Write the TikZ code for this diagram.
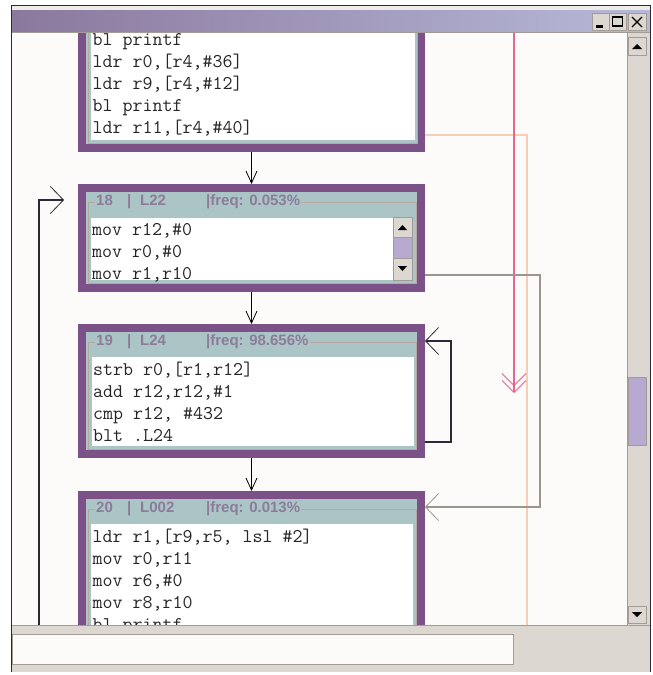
\documentclass[tikz,border=0pt]{standalone}
\usepackage{fontspec}
\usepackage{tikz}
\usetikzlibrary{arrows.meta}
\newfontfamily\headfont{Liberation Sans}
\definecolor{blockpurple}{HTML}{7B5188}
\definecolor{blockteal}{HTML}{ABC5C7}
\definecolor{framegrey}{HTML}{B3A99F}
\definecolor{headgrey}{HTML}{8C7C9A}
\definecolor{canvas}{HTML}{FCFBF9}
\definecolor{chrome}{HTML}{DDD7D1}
\definecolor{chromedark}{HTML}{A39C95}
\definecolor{titleleft}{HTML}{8B789D}
\definecolor{titleright}{HTML}{B6B9D9}
\definecolor{edgepink}{HTML}{E5668F}
\definecolor{edgepeach}{HTML}{F9CDB4}
\definecolor{edgegrey}{HTML}{9C958E}
\definecolor{edgedark}{HTML}{2E2836}
\definecolor{thumblilac}{HTML}{B7A9CF}

\newcommand{\blockhead}[3]{\makebox[31pt][l]{#1}\makebox[13pt][l]{|}\makebox[66pt][l]{#2}|freq: #3\%}

\begin{document}
\begin{tikzpicture}[x=1pt, y=-1pt,
    block/.style={draw=blockpurple, line width=8pt, fill=blockteal, minimum width=339pt, inner sep=0pt},
    pane/.style={fill=white},
    gbox/.style={draw=framegrey, line width=0.8pt},
    head/.style={anchor=west, fill=blockteal, inner xsep=1pt, inner ysep=0pt, text=headgrey,
                 font=\headfont\bfseries\fontsize{15}{15}\selectfont},
    code/.style={anchor=base west, align=left, inner sep=0pt, text=black!85,
                 font=\fontsize{19.4}{22}\selectfont\ttfamily},
    flow/.style={line width=1pt, -{Straight Barb[length=12pt,width=11pt,line width=0.8pt]}},
    backedge/.style={draw=edgedark, line width=2pt, -{Straight Barb[length=13pt,width=27pt,line width=0.8pt]}},
    crossedge/.style={draw=edgegrey, line width=1.5pt, -{Straight Barb[length=13pt,width=27pt,line width=0.8pt]}},
    peachedge/.style={draw=edgepeach, line width=1.5pt},
    pinkedge/.style={draw=edgepink, line width=1.5pt,
                     -{Straight Barb[length=12pt,width=24pt,line width=0.8pt,sep=-6pt]Straight Barb[length=12pt,width=24pt,line width=0.8pt]}},
    btn/.style={fill=chrome, draw=chromedark, line width=0.8pt}]

  % page and window
  \fill[white] (0,0) rectangle (653,675);
  \fill[chrome] (11,5) rectangle (650,672);
  \fill[canvas] (12,33) rectangle (627,625);

  \begin{scope}
    \clip (12,33) rectangle (627,625);
    % blocks
    \node[block, minimum height=164pt] (b17) at (251.5,66) {};
    \node[block, minimum height=100pt] (b18) at (251.5,238) {};
    \node[block, minimum height=126pt] (b19) at (251.5,391) {};
    \node[block, minimum height=201pt] (b20) at (251.5,595.5) {};

    \draw[gbox] (88,-20) rectangle (417,143);
    \fill[pane] (91,-20) rectangle (415,140);
    \draw[gbox] (88,202) rectangle (416,283);
    \fill[pane] (91,218) rectangle (393,280);
    \draw[gbox] (88,342) rectangle (416,449);
    \fill[pane] (92,357) rectangle (414,446);
    \draw[gbox] (88,509) rectangle (416,700);
    \fill[pane] (91,524) rectangle (413,700);

    \node[head] (h18) at (95,202) {\blockhead{18}{L22}{0.053}};
    \node[head] (h19) at (95,342) {\blockhead{19}{L24}{98.656}};
    \node[head] (h20) at (95,509) {\blockhead{20}{L002}{0.013}};

    % base of a block's text is its last line
    \node[code] (c17) at (92.5,133) {bl printf\\ldr r0,[r4,\#36]\\ldr r9,[r4,\#12]\\bl printf\\ldr r11,[r4,\#40]};
    \node[code] (c18) at (92,279) {mov r12,\#0\\mov r0,\#0\\mov r1,r10};
    \node[code] (c19) at (93,441) {strb r0,[r1,r12]\\add r12,r12,\#1\\cmp r12, \#432\\blt .L24};
    \node[code] (c20) at (92.5,630) {ldr r1,[r9,r5, lsl \#2]\\mov r0,r11\\mov r6,\#0\\mov r8,r10\\bl printf};

    % small scrollbar of block 18
    \draw[btn] (393,217) rectangle (412,237);
    \fill (398,230) -- (407,230) -- (402.5,225) -- cycle;
    \draw[fill=thumblilac, draw=chromedark] (393,237) rectangle (412,258);
    \draw[btn] (393,258) rectangle (412,280);
    \fill (398,266) -- (407,266) -- (402.5,271) -- cycle;

    % edges
    \coordinate (loopfoot) at (39,640);
    \coordinate (peachfoot) at (527,640);
    \coordinate (pinktop) at (514,20);
    \coordinate (pinkend) at (514,393);
    \draw[peachedge] ([yshift=17pt]b17.south east) -| (peachfoot);
    \draw[pinkedge] (pinktop) -- (pinkend);
    \draw[crossedge] ([yshift=17pt]b18.south east) -- ++(115,0) |- ([yshift=-16pt]b20.north east);
    \draw[backedge] ([yshift=16pt]b19.south east) -- ++(26,0) |- ([yshift=-17pt]b19.north east);
    \draw[backedge] (loopfoot) |- ([xshift=-14pt,yshift=-16pt]b18.north west);
    \draw[flow] (b17) -- (b18);
    \draw[flow] (b18) -- (b19);
    \draw[flow] (b19) -- (b20);
  \end{scope}

  % title bar
  \fill[chrome!50!white] (11,5) rectangle (650,10);
  \shade[left color=titleleft, right color=titleright] (12,10) rectangle (650,32);
  \draw[chromedark, line width=1.5pt] (12,32.5) -- (650,32.5);
  \draw[btn] (592,13) rectangle (609,30);
  \fill (596,25) rectangle (603,27.5);
  \draw[btn] (609,13) rectangle (626,30);
  \draw[line width=1.4pt] (612.5,17) rectangle (622.5,26);
  \draw[btn] (628,13) rectangle (646,30);
  \draw[line width=1.4pt] (632,17) -- (642,27) (632,27) -- (642,17);

  % main scrollbar
  \fill[chrome] (627,33) rectangle (647,625);
  \draw[chromedark] (627,33) -- (627,625);
  \draw[btn] (628,37) rectangle (646,55);
  \fill (632,49) -- (642,49) -- (637,44) -- cycle;
  \draw[fill=thumblilac, draw=chromedark] (628,377) rectangle (646,445);
  \draw[btn] (628,606) rectangle (646,623);
  \fill (632,612) -- (642,612) -- (637,617) -- cycle;

  % status area
  \draw[chromedark, line width=1.5pt] (12,625.5) -- (650,625.5);
  \draw[fill=canvas, draw=chromedark] (12,634) rectangle (513,664);
  \draw[edgedark, line width=1pt] (11,672) -- (11,5) -- (650,5) -- (650,672);
\end{tikzpicture}
\end{document}
